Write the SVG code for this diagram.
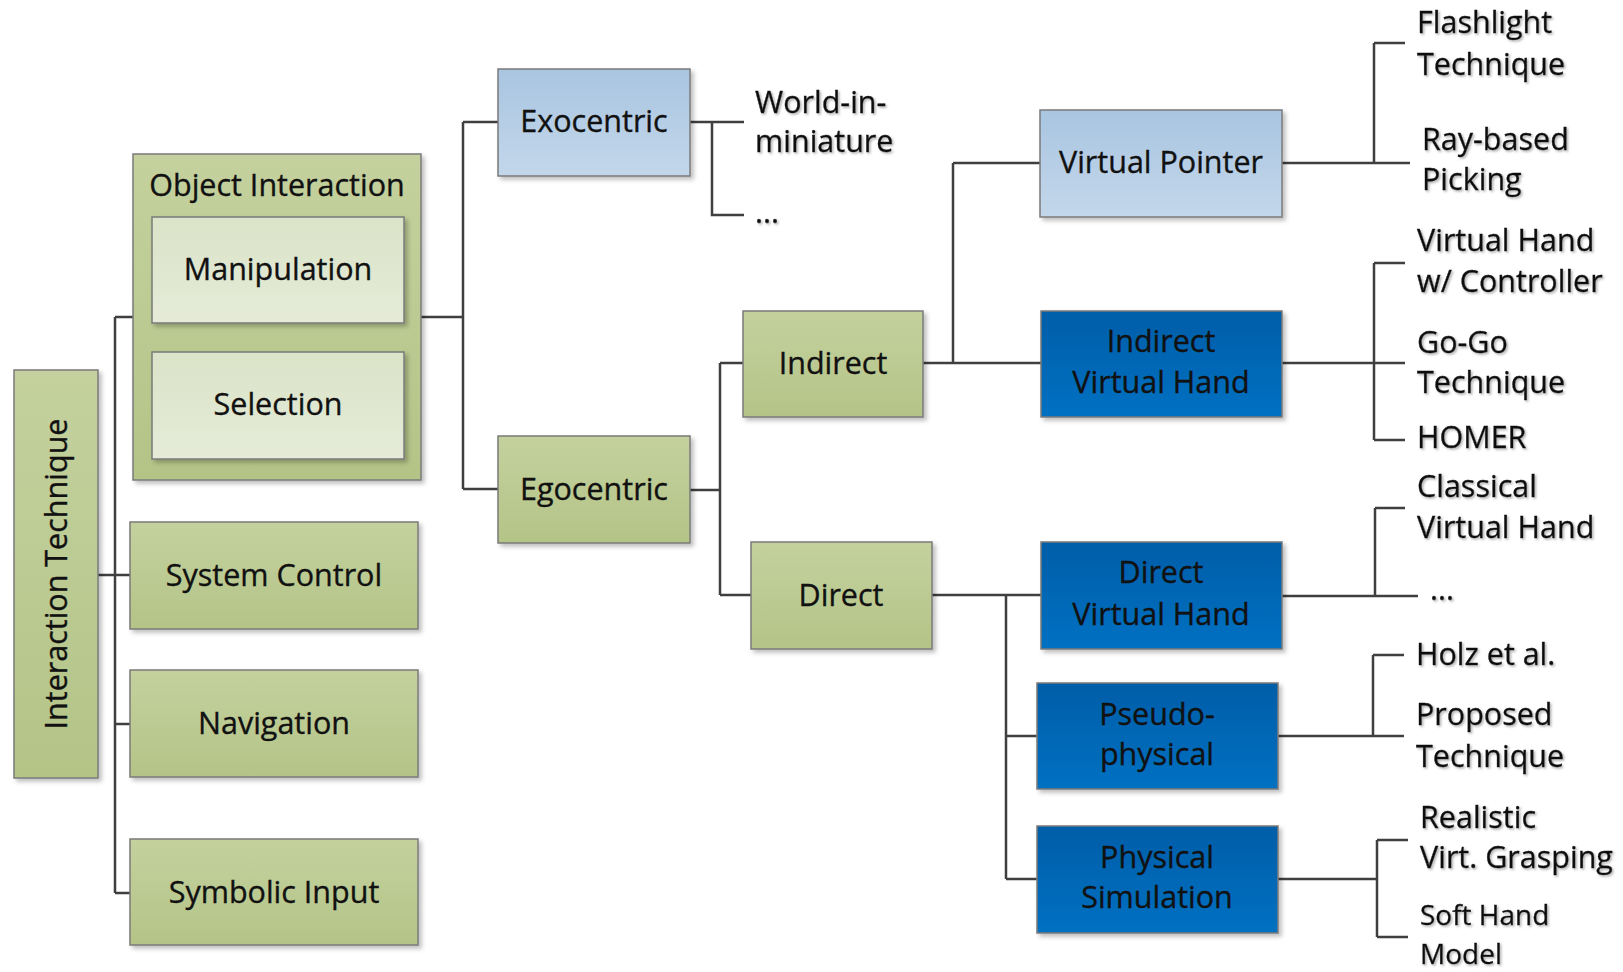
<svg xmlns="http://www.w3.org/2000/svg" width="1623" height="972" viewBox="0 0 1623 972">
<defs>
<linearGradient id="gGreen" x1="0" y1="0" x2="0" y2="1"><stop offset="0" stop-color="#c4d19e"/><stop offset="1" stop-color="#b4c487"/></linearGradient>
<linearGradient id="gLight" x1="0" y1="0" x2="0" y2="1"><stop offset="0" stop-color="#dbe3c8"/><stop offset="1" stop-color="#e5ebd8"/></linearGradient>
<linearGradient id="gSky" x1="0" y1="0" x2="0" y2="1"><stop offset="0" stop-color="#a9c5e0"/><stop offset="1" stop-color="#c3d7eb"/></linearGradient>
<linearGradient id="gBlue" x1="0" y1="0" x2="0" y2="1"><stop offset="0" stop-color="#005ea8"/><stop offset="1" stop-color="#0070c2"/></linearGradient>
<filter id="sh" x="-10%" y="-10%" width="130%" height="130%"><feDropShadow dx="3" dy="3" stdDeviation="2" flood-color="#000" flood-opacity="0.25"/></filter>
<filter id="tsh" x="-10%" y="-30%" width="130%" height="160%"><feDropShadow dx="1.5" dy="1.5" stdDeviation="1.2" flood-color="#777" flood-opacity="0.6"/></filter>
</defs>
<style>
.box{stroke:#7a7a7a;stroke-width:1.5;filter:url(#sh)}
.green{fill:url(#gGreen)}
.light{fill:url(#gLight)}
.sky{fill:url(#gSky)}
.blue{fill:url(#gBlue)}
text{font-family:"Open Sans","Liberation Sans",sans-serif;font-size:30.5px;fill:#111;stroke:#111;stroke-width:0.35}
.c{text-anchor:middle}
.sm{font-size:28px}
.lab{filter:url(#tsh)}
.con{fill:none;stroke:#3f3f3f;stroke-width:2.5}
</style>
<rect width="1623" height="972" fill="#fff"/>

<g id="connectors" class="con">
<path d="M98 575H115M115 317V893M115 317H133M115 575H130M115 724H130M115 893H130"/>
<path d="M421 317H463M463 122V489M463 122H498M463 489H498"/>
<path d="M690 122H744M712 122V215H744"/>
<path d="M690 490H720M720 363V595M720 363H743M720 595H751"/>
<path d="M923 363H1041M953 163V363M953 163H1040"/>
<path d="M932 595H1041M1006 595V879M1006 736H1037M1006 879H1037"/>
<path d="M1282 163H1410M1374 43V163M1374 43H1405"/>
<path d="M1282 363H1405M1374 263V440M1374 263H1405M1374 440H1405"/>
<path d="M1282 596H1418M1375 508V596M1375 508H1405"/>
<path d="M1278 736H1404M1373 655V736M1373 655H1404"/>
<path d="M1278 879H1377M1377 840V937M1377 840H1408M1377 937H1408"/>
</g>

<g id="interaction-technique"><rect class="box green" x="14" y="370" width="84" height="408"/><text transform="translate(67 574) rotate(-90)" class="c">Interaction Technique</text></g>
<g id="object-interaction"><rect class="box green" x="133" y="154" width="288" height="326"/><text x="277" y="196" class="c">Object Interaction</text></g>
<g id="manipulation"><rect class="box light" x="152" y="217" width="252" height="106"/><text x="278" y="280" class="c">Manipulation</text></g>
<g id="selection"><rect class="box light" x="152" y="352" width="252" height="107"/><text x="278" y="415" class="c">Selection</text></g>
<g id="system-control"><rect class="box green" x="130" y="522" width="288" height="107"/><text x="274" y="586" class="c">System Control</text></g>
<g id="navigation"><rect class="box green" x="130" y="670" width="288" height="107"/><text x="274" y="734" class="c">Navigation</text></g>
<g id="symbolic-input"><rect class="box green" x="130" y="839" width="288" height="106"/><text x="274" y="903" class="c">Symbolic Input</text></g>

<g id="exocentric"><rect class="box sky" x="498" y="69" width="192" height="107"/><text x="594" y="132" class="c">Exocentric</text></g>
<g id="egocentric"><rect class="box green" x="498" y="436" width="192" height="107"/><text x="594" y="500" class="c">Egocentric</text></g>
<g id="indirect"><rect class="box green" x="743" y="311" width="180" height="106"/><text x="833" y="374" class="c">Indirect</text></g>
<g id="direct"><rect class="box green" x="751" y="542" width="181" height="107"/><text x="841" y="606" class="c">Direct</text></g>

<g id="virtual-pointer"><rect class="box sky" x="1040" y="110" width="242" height="107"/><text x="1161" y="173" class="c">Virtual Pointer</text></g>
<g id="indirect-virtual-hand"><rect class="box blue" x="1041" y="311" width="241" height="106"/><text x="1161" y="352" class="c">Indirect</text><text x="1161" y="393" class="c">Virtual Hand</text></g>
<g id="direct-virtual-hand"><rect class="box blue" x="1041" y="542" width="241" height="107"/><text x="1161" y="583" class="c">Direct</text><text x="1161" y="625" class="c">Virtual Hand</text></g>
<g id="pseudo-physical"><rect class="box blue" x="1037" y="683" width="241" height="106"/><text x="1157" y="725" class="c">Pseudo-</text><text x="1157" y="765" class="c">physical</text></g>
<g id="physical-simulation"><rect class="box blue" x="1037" y="826" width="241" height="107"/><text x="1157" y="868" class="c">Physical</text><text x="1157" y="908" class="c">Simulation</text></g>

<g id="labels" class="lab">
<text x="755" y="113">World-in-</text><text x="755" y="152">miniature</text>
<text x="755" y="223">...</text>
<text x="1417" y="33">Flashlight</text><text x="1417" y="75">Technique</text>
<text x="1422" y="150">Ray-based</text><text x="1422" y="190">Picking</text>
<text x="1417" y="251">Virtual Hand</text><text x="1417" y="292">w/ Controller</text>
<text x="1417" y="353">Go-Go</text><text x="1417" y="393">Technique</text>
<text x="1417" y="448">HOMER</text>
<text x="1417" y="497">Classical</text><text x="1417" y="538">Virtual Hand</text>
<text x="1430" y="600">...</text>
<text x="1416" y="665">Holz et al.</text>
<text x="1416" y="725">Proposed</text><text x="1416" y="767">Technique</text>
<text x="1420" y="828">Realistic</text><text x="1420" y="868">Virt. Grasping</text>
<text x="1420" y="925" class="sm">Soft Hand</text><text x="1420" y="964" class="sm">Model</text>
</g>
</svg>
